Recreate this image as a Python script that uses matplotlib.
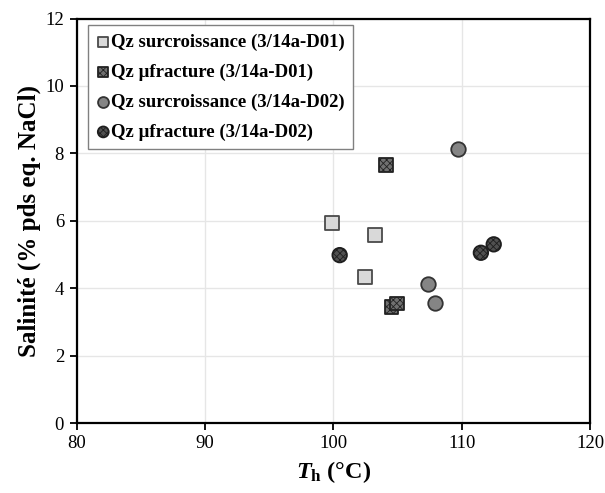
import matplotlib
matplotlib.use("Agg")
import matplotlib.pyplot as plt

plt.rcParams['font.family'] = ['Liberation Serif', 'DejaVu Serif']
plt.rcParams['mathtext.fontset'] = 'custom'
plt.rcParams['mathtext.it'] = 'Liberation Serif:italic:bold'
plt.rcParams['mathtext.rm'] = 'Liberation Serif:bold'
plt.rcParams['mathtext.bf'] = 'Liberation Serif:bold'
plt.rcParams['hatch.linewidth'] = 0.6

labels = ["Qz surcroissance (3/14a-D01)", "Qz µfracture (3/14a-D01)",
          "Qz surcroissance (3/14a-D02)", "Qz µfracture (3/14a-D02)"]

th_d01_surc = [99.9, 103.25, 102.5]
sal_d01_surc = [5.94, 5.58, 4.33]
th_d01_frac = [104.1, 104.55, 104.98]
sal_d01_frac = [7.66, 3.44, 3.54]
th_d02_surc = [109.74, 107.4, 107.9]
sal_d02_surc = [8.12, 4.12, 3.56]
th_d02_frac = [100.5, 111.5, 112.5]
sal_d02_frac = [4.98, 5.05, 5.3]

xticks = [80, 90, 100, 110, 120]
yticks = [0, 2, 4, 6, 8, 10, 12]

fig = plt.figure(figsize=(6.05, 4.93), dpi=100)
ax = fig.add_axes([76.5/605, 1-423/493, (590-76.5)/605, (423-18.5)/493])

ms = 95
ax.scatter(th_d01_surc, sal_d01_surc, marker='s', s=ms, facecolor='#d9d9d9',
           edgecolor='#4a4a4a', linewidth=1.3, label=labels[0], zorder=3)
ax.scatter(th_d01_frac, sal_d01_frac, marker='s', s=ms, facecolor='#707070',
           edgecolor='#222222', linewidth=1.3, hatch='xxxxx', label=labels[1], zorder=3)
ax.scatter(th_d02_surc, sal_d02_surc, marker='o', s=ms*1.15, facecolor='#858585',
           edgecolor='#333333', linewidth=1.3, label=labels[2], zorder=3)
ax.scatter(th_d02_frac, sal_d02_frac, marker='o', s=ms*1.15, facecolor='#505050',
           edgecolor='#1e1e1e', linewidth=1.3, hatch='xxxxx', label=labels[3], zorder=3)

ax.set_xlim(80, 120)
ax.set_ylim(0, 12)
ax.set_xticks(xticks)
ax.set_yticks(yticks)
ax.grid(True, color='#e6e6e6', linewidth=1.0, zorder=0)
ax.set_axisbelow(True)
for s in ax.spines.values():
    s.set_linewidth(1.6)
    s.set_color('black')
ax.tick_params(direction='out', length=5, width=1.3, labelsize=13.5, pad=4)

ax.set_xlabel(r'$T_\mathrm{h}$ (°C)', fontsize=17.5, fontweight='bold', labelpad=5)
ax.set_ylabel('Salinité (% pds eq. NaCl)', fontsize=18, fontweight='bold', labelpad=3)

leg = ax.legend(loc='upper left', bbox_to_anchor=(0.022, 0.984), frameon=True,
                fancybox=False, edgecolor='#808080', framealpha=1,
                prop={'weight': 'bold', 'size': 13.5}, handletextpad=0.05,
                handlelength=0.75, borderpad=0.45, labelspacing=0.68, borderaxespad=0,
                markerscale=0.75)
leg.get_frame().set_linewidth(1.0)

fig.savefig('out.png', dpi=100)
